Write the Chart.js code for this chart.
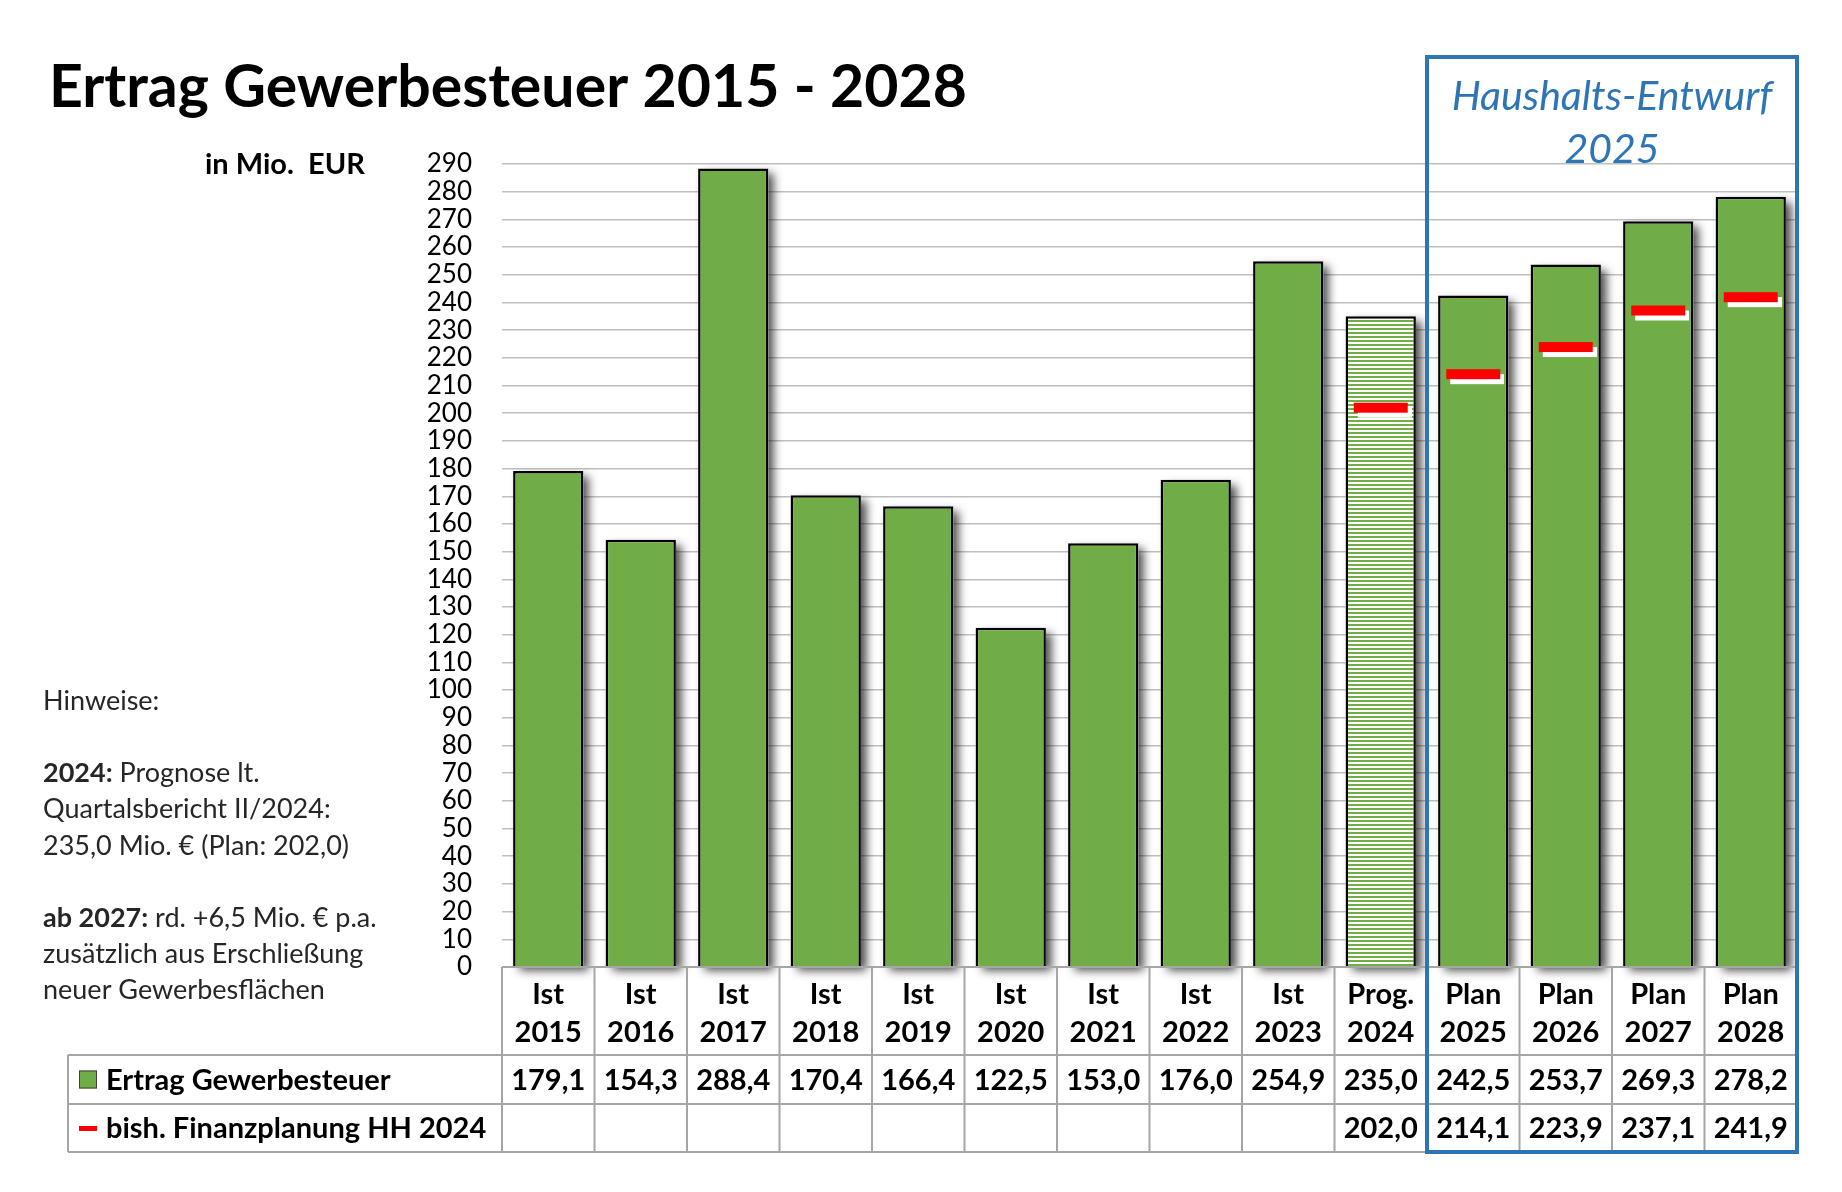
<!DOCTYPE html>
<html>
<head>
<meta charset="utf-8">
<title>Ertrag Gewerbesteuer 2015 - 2028</title>
<script src="https://cdn.jsdelivr.net/npm/chart.js@4.4.1/dist/chart.umd.min.js"></script>
<style>
html, body { margin: 0; padding: 0; background: #fff; }
#wrap { width: 1842px; height: 1192px; }
</style>
</head>
<body>
<div id="wrap"><canvas id="myChart" width="1842" height="1192"></canvas></div>
<script>
'use strict';

// daten aus der grafik
let arten = ['Ist', 'Ist', 'Ist', 'Ist', 'Ist', 'Ist', 'Ist', 'Ist', 'Ist', 'Prog.', 'Plan', 'Plan', 'Plan', 'Plan'];
let jahre = ['2015', '2016', '2017', '2018', '2019', '2020', '2021', '2022', '2023', '2024', '2025', '2026', '2027', '2028'];
let ertrag = [179.1, 154.3, 288.4, 170.4, 166.4, 122.5, 153.0, 176.0, 254.9, 235.0, 242.5, 253.7, 269.3, 278.2];
let planung = [null, null, null, null, null, null, null, null, null, 202.0, 214.1, 223.9, 237.1, 241.9];
let yMax = 290;
let yStep = 10;
let progIndex = 9;      // gestreifter balken
let entwurfStart = 10;  // ab hier blauer rahmen

let serienNamen = ['Ertrag Gewerbesteuer', 'bish. Finanzplanung HH 2024'];
let hinweise = [
    ['', 'Hinweise:'],
    null,
    ['2024:', ' Prognose lt.'],
    ['', 'Quartalsbericht II/2024:'],
    ['', '235,0 Mio. \u20ac (Plan: 202,0)'],
    null,
    ['ab 2027:', ' rd. +6,5 Mio. \u20ac p.a.'],
    ['', 'zus\u00e4tzlich aus Erschlie\u00dfung'],
    ['', 'neuer Gewerbesfl\u00e4chen']
];

let labels = [];
for (let i = 0; i < jahre.length; i++) {
    labels.push([arten[i], jahre[i]]);
}

let gruen = '#70ad47';
let rot = '#ff0000';
let blau = '#2e75b6';
let linie = '#a6a6a6';
let schrift = 'Lato, "Open Sans", sans-serif';

// streifenmuster fuer Prog. 2024
let musterCanvas = document.createElement('canvas');
musterCanvas.width = 4;
musterCanvas.height = 4;
let mctx = musterCanvas.getContext('2d');
mctx.fillStyle = '#ffffff';
mctx.fillRect(0, 0, 4, 4);
mctx.fillStyle = gruen;
mctx.fillRect(0, 0, 4, 2);
let streifen = mctx.createPattern(musterCanvas, 'repeat');

let farben = ertrag.map((v, i) => i === progIndex ? streifen : gruen);

// roter strich mit weissem schatten als punkt
let strich = document.createElement('canvas');
strich.width = 62;
strich.height = 22;
let sctx = strich.getContext('2d');
sctx.fillStyle = '#ffffff';
sctx.fillRect(8, 11, 54, 10);
sctx.fillStyle = rot;
sctx.fillRect(4, 6, 54, 10);

function fmt(v) {
    return v.toFixed(1).replace('.', ',');
}

// schatten rechts neben den balken (vor dem zeichnen der balken)
let schattenPlugin = {
    id: 'schatten',
    beforeDatasetDraw(chart, args) {
        if (args.index !== 0) return;
        let ctx = chart.ctx;
        let meta = chart.getDatasetMeta(0);
        ctx.save();
        ctx.shadowColor = 'rgba(0,0,0,0.7)';
        ctx.shadowBlur = 9;
        ctx.shadowOffsetX = 6;
        ctx.shadowOffsetY = 5;
        ctx.fillStyle = '#ffffff';
        meta.data.forEach(bar => {
            let p = bar.getProps(['x', 'y', 'base', 'width']);
            ctx.fillRect(p.x - p.width / 2, p.y, p.width, p.base - p.y);
        });
        ctx.restore();
    }
};

let tabellePlugin = {
    id: 'tabelle',
    beforeDraw(chart) {
        let ctx = chart.ctx;
        ctx.save();
        ctx.fillStyle = '#ffffff';
        ctx.fillRect(0, 0, chart.width, chart.height);
        ctx.restore();
    },
    afterDraw(chart) {
        let ctx = chart.ctx;
        let xs = chart.scales.x;
        let area = chart.chartArea;
        let n = jahre.length;
        let breite = (xs.right - xs.left) / n;
        let top = area.bottom;
        let kopfUnten = top + 88;
        let zeile1 = kopfUnten + 49;
        let zeile2 = zeile1 + 48;
        let links = 68;

        ctx.save();

        // titel
        ctx.fillStyle = '#000';
        ctx.textBaseline = 'alphabetic';
        ctx.textAlign = 'left';
        ctx.font = 'bold 59px ' + schrift;
        ctx.fillText('Ertrag Gewerbesteuer 2015 - 2028', 49, 107);

        ctx.font = 'bold 29px ' + schrift;
        ctx.textBaseline = 'middle';
        ctx.fillText('in Mio.  EUR', 205, 165);

        // hinweise links
        ctx.fillStyle = '#262626';
        let y = 701;
        for (let i = 0; i < hinweise.length; i++) {
            let h = hinweise[i];
            if (h) {
                let x = 43;
                ctx.font = 'bold 27px ' + schrift;
                ctx.fillText(h[0], x, y);
                x += ctx.measureText(h[0]).width;
                ctx.font = '27px ' + schrift;
                ctx.fillText(h[1], x, y);
            }
            y += 36.2;
        }

        // tabellenlinien
        ctx.strokeStyle = linie;
        ctx.lineWidth = 2;
        ctx.beginPath();
        ctx.moveTo(xs.left, top);
        ctx.lineTo(xs.right, top);
        [kopfUnten, zeile1, zeile2].forEach(yy => {
            ctx.moveTo(links, yy);
            ctx.lineTo(xs.right, yy);
        });
        ctx.moveTo(links, kopfUnten);
        ctx.lineTo(links, zeile2);
        for (let i = 0; i <= n; i++) {
            let xx = xs.left + i * breite;
            ctx.moveTo(xx, top);
            ctx.lineTo(xx, zeile2);
        }
        ctx.stroke();

        // werte
        ctx.fillStyle = '#000';
        ctx.font = 'bold 29px ' + schrift;
        ctx.textAlign = 'center';
        for (let i = 0; i < n; i++) {
            let xx = xs.getPixelForValue(i);
            ctx.fillText(fmt(ertrag[i]), xx, (kopfUnten + zeile1) / 2 + 1);
            if (planung[i] !== null) {
                ctx.fillText(fmt(planung[i]), xx, (zeile1 + zeile2) / 2 + 1);
            }
        }

        // legende in der tabelle
        ctx.textAlign = 'left';
        let m1 = (kopfUnten + zeile1) / 2;
        let m2 = (zeile1 + zeile2) / 2;
        ctx.fillStyle = gruen;
        ctx.fillRect(79, m1 - 9, 18, 18);
        ctx.strokeStyle = '#404040';
        ctx.lineWidth = 1;
        ctx.strokeRect(79.5, m1 - 8.5, 17, 17);
        ctx.fillStyle = rot;
        ctx.fillRect(79, m2 - 2, 18, 5);
        ctx.fillStyle = '#000';
        ctx.font = 'bold 29px ' + schrift;
        ctx.fillText(serienNamen[0], 106, m1 + 1);
        ctx.fillText(serienNamen[1], 106, m2 + 1);

        // blauer rahmen haushalts-entwurf
        let bx = xs.left + entwurfStart * breite;
        ctx.strokeStyle = blau;
        ctx.lineWidth = 4;
        ctx.strokeRect(bx, 57, xs.right - bx, zeile2 - 57);
        ctx.fillStyle = blau;
        ctx.textAlign = 'center';
        ctx.font = 'italic 41px ' + schrift;
        let mx = (bx + xs.right) / 2;
        ctx.fillText('Haushalts-Entwurf', mx, 97);
        ctx.fillText('2025', mx, 150);

        ctx.restore();
    }
};

let ctx = document.getElementById('myChart').getContext('2d');
let myChart = new Chart(ctx, {
    type: 'bar',
    data: {
        labels: labels,
        datasets: [{
            label: serienNamen[0],
            data: ertrag,
            backgroundColor: farben,
            borderColor: '#000000',
            borderWidth: 2.5,
            borderSkipped: 'bottom',
            barPercentage: 0.76,
            categoryPercentage: 1.0,
            order: 2
        },
        {
            type: 'line',
            label: serienNamen[1],
            data: planung,
            showLine: false,
            pointStyle: strich,
            pointRadius: 10,
            order: 1
        }]
    },
    plugins: [schattenPlugin, tabellePlugin],
    options: {
        responsive: false,
        animation: false,
        devicePixelRatio: 1,
        layout: {
            padding: { left: 0, right: 45, top: 164, bottom: 40 }
        },
        plugins: {
            legend: { display: false },
            tooltip: { enabled: false }
        },
        scales: {
            x: {
                grid: { display: false },
                border: { display: false },
                ticks: {
                    color: '#000',
                    padding: 1,
                    maxRotation: 0,
                    autoSkip: false,
                    font: { family: schrift, size: 29, weight: 'bold', lineHeight: 1.3 }
                },
                afterFit(scale) { scale.height = 185; }
            },
            y: {
                min: 0,
                max: yMax,
                grid: { color: '#bfbfbf', lineWidth: 1.5, drawTicks: false },
                border: { display: false },
                ticks: {
                    stepSize: yStep,
                    autoSkip: false,
                    color: '#000',
                    padding: 30,
                    font: { family: schrift, size: 26 }
                },
                afterFit(scale) { scale.width = 502; }
            }
        }
    }
});
</script>
</body>
</html>
